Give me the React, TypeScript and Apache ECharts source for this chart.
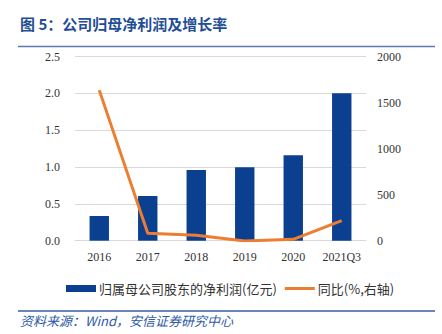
import React, { useEffect, useRef } from "react";
import * as echarts from "echarts";

const categories = ["2016", "2017", "2018", "2019", "2020", "2021Q3"];
const netProfit = [0.335, 0.607, 0.96, 0.997, 1.16, 2.0];
const yoyGrowth = [1635, 80, 58, -3, 15, 217];
const leftTicks = { min: 0, max: 2.5, interval: 0.5 };
const rightTicks = { min: 0, max: 2000, interval: 500 };

const serif = "'Liberation Serif', 'Times New Roman', 'Noto Sans CJK SC', serif";
const cjk = "'Noto Sans CJK SC', sans-serif";

export default function App() {
  const ref = useRef<HTMLDivElement>(null);
  useEffect(() => {
    const chart = echarts.init(ref.current!, undefined, { renderer: "svg" });
    chart.setOption({
      animation: false,
      backgroundColor: "#ffffff",
      grid: { left: 75, right: 76, top: 56.5, bottom: 93.3 },
      xAxis: {
        type: "category",
        data: categories,
        axisLine: { show: true, lineStyle: { color: "#d9d9d9" } },
        axisTick: { show: false },
        axisLabel: { color: "#333", fontFamily: serif, fontSize: 12, margin: 10, interval: 0 },
      },
      yAxis: [
        {
          type: "value",
          ...leftTicks,
          axisLabel: {
            color: "#333",
            fontFamily: serif,
            fontSize: 12,
            margin: 15,
            formatter: (v: number) => v.toFixed(1),
          },
          axisLine: { show: false },
          axisTick: { show: false },
          splitLine: { lineStyle: { color: "#d9d9d9" } },
        },
        {
          type: "value",
          ...rightTicks,
          position: "right",
          axisLabel: {
            color: "#333",
            fontFamily: serif,
            fontSize: 12,
            margin: 11,
            formatter: (v: number) => String(v),
          },
          axisLine: { show: false },
          axisTick: { show: false },
          splitLine: { show: false },
        },
      ],
      legend: {
        left: 61,
        top: 277,
        itemWidth: 30,
        itemHeight: 7,
        itemGap: 8,
        symbolKeepAspect: true,
        textStyle: { fontFamily: cjk, fontSize: 13, color: "#333", padding: [0, 0, 0, -2] },
        data: [
          { name: "归属母公司股东的净利润(亿元)", icon: "rect" },
          { name: "同比(%,右轴)", icon: "path://M0,0h30v3h-30z" },
        ],
      },
      series: [
        {
          name: "归属母公司股东的净利润(亿元)",
          type: "bar",
          data: netProfit,
          barWidth: "40%",
          itemStyle: { color: "#0B3F8F" },
        },
        {
          name: "同比(%,右轴)",
          type: "line",
          yAxisIndex: 1,
          data: yoyGrowth,
          showSymbol: false,
          symbol: "none",
          lineStyle: { color: "#ED7D31", width: 3 },
          itemStyle: { color: "#ED7D31" },
        },
      ],
      graphic: [
        {
          type: "text",
          left: 20,
          top: 16,
          style: {
            text: "图 5：公司归母净利润及增长率",
            font: `bold 15px ${cjk}`,
            fill: "#1F4E96",
          },
        },
        {
          type: "line",
          shape: { x1: 18, y1: 46.5, x2: 435, y2: 46.5 },
          style: { stroke: "#5B79B0", lineWidth: 1.5 },
        },
        {
          type: "line",
          shape: { x1: 18, y1: 311, x2: 435, y2: 311 },
          style: { stroke: "#3A5DA0", lineWidth: 1.5 },
        },
        {
          type: "text",
          left: 20,
          top: 314,
          style: {
            text: "资料来源：Wind，安信证券研究中心",
            font: `italic 13px ${cjk}`,
            fill: "#2E5AA8",
          },
        },
      ],
    });
    return () => chart.dispose();
  }, []);
  return (
    <div
      ref={ref}
      style={{ position: "absolute", left: 0, top: 0, width: 442, height: 334 }}
    />
  );
}
